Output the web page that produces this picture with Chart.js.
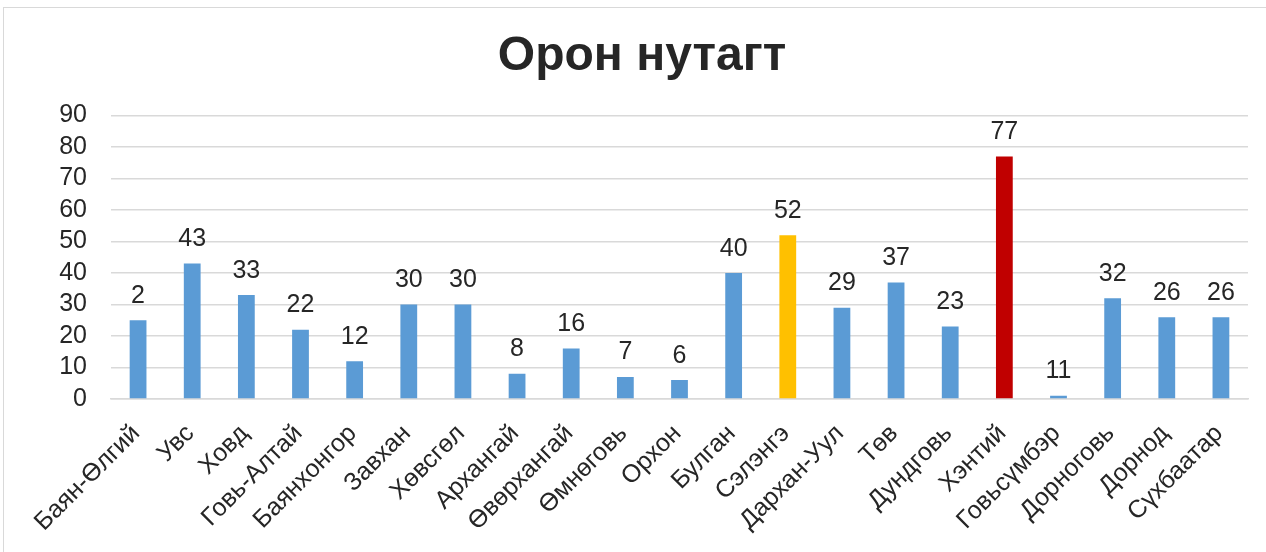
<!DOCTYPE html>
<html>
<head>
<meta charset="utf-8">
<script src="https://cdn.jsdelivr.net/npm/chart.js@4.4.1/dist/chart.umd.min.js"></script>
<style>
  html, body { margin: 0; padding: 0; background: #fff; overflow: hidden; }
  #wrap { position: relative; width: 1266px; height: 552px; }
  #frame { position: absolute; left: 3px; top: 7px; right: -10px; bottom: -10px;
           border-left: 1.5px solid #d9d9d9; border-top: 1.5px solid #d9d9d9; }
  canvas { position: absolute; left: 0; top: 0; }
</style>
</head>
<body>
<div id="wrap">
  <div id="frame"></div>
  <canvas id="c" width="1266" height="552"></canvas>
</div>
<script>
const titleText = 'Орон нутагт';
const categories = ['Баян-Өлгий','Увс','Ховд','Говь-Алтай','Баянхонгор','Завхан','Хөвсгөл','Архангай','Өвөрхангай','Өмнөговь','Орхон','Булган','Сэлэнгэ','Дархан-Уул','Төв','Дундговь','Хэнтий','Говьсүмбэр','Дорноговь','Дорнод','Сүхбаатар'];
const barValues = [25,43,33,22,12,30,30,8,16,7,6,40,52,29,37,23,77,1,32,26,26];
const dataLabels = ['2','43','33','22','12','30','30','8','16','7','6','40','52','29','37','23','77','11','32','26','26'];
const barColors = ['#5B9BD5','#5B9BD5','#5B9BD5','#5B9BD5','#5B9BD5','#5B9BD5','#5B9BD5','#5B9BD5','#5B9BD5','#5B9BD5','#5B9BD5','#5B9BD5','#FFC000','#5B9BD5','#5B9BD5','#5B9BD5','#C00000','#5B9BD5','#5B9BD5','#5B9BD5','#5B9BD5'];
const yMin = 0, yMax = 90, yStep = 10;

const FONT = '"Liberation Sans", Arial, sans-serif';
const TEXT = '#262626';

const labelPlugin = {
  id: 'barLabels',
  afterDatasetsDraw(chart) {
    const ctx = chart.ctx;
    const meta = chart.getDatasetMeta(0);
    ctx.save();
    ctx.font = '25px ' + FONT;
    ctx.fillStyle = TEXT;
    ctx.textAlign = 'center';
    ctx.textBaseline = 'alphabetic';
    meta.data.forEach((bar, i) => {
      ctx.fillText(dataLabels[i], bar.x, bar.y - 17.5);
    });
    ctx.restore();
  }
};

new Chart(document.getElementById('c'), {
  type: 'bar',
  data: {
    labels: categories,
    datasets: [{
      data: barValues,
      backgroundColor: barColors,
      borderWidth: 0,
      barPercentage: 0.62,
      categoryPercentage: 0.5
    }]
  },
  options: {
    responsive: false,
    animation: false,
    events: [],
    layout: { padding: { left: 36, right: 18, top: 0, bottom: 0 } },
    plugins: {
      legend: { display: false },
      tooltip: { enabled: false },
      title: {
        display: true,
        text: titleText,
        color: TEXT,
        font: { family: FONT, size: 48, weight: 'bold' },
        padding: { top: 28, bottom: 30 }
      }
    },
    scales: {
      x: {
        grid: { display: false, drawTicks: false },
        border: { display: true, color: '#d9d9d9', width: 1.5 },
        ticks: {
          autoSkip: false,
          maxRotation: 45,
          minRotation: 45,
          color: TEXT,
          font: { family: FONT, size: 25 },
          padding: 20,
          labelOffset: -2
        },
        afterFit(scale) { scale.height = 153; }
      },
      y: {
        min: yMin,
        max: yMax,
        grid: { color: '#d9d9d9', lineWidth: 1.5, drawTicks: false },
        border: { display: false },
        ticks: {
          stepSize: yStep,
          autoSkip: false,
          color: TEXT,
          font: { family: FONT, size: 25 },
          padding: 24
        },
        afterFit(scale) { scale.width = 75; }
      }
    }
  },
  plugins: [labelPlugin]
});
</script>
</body>
</html>
